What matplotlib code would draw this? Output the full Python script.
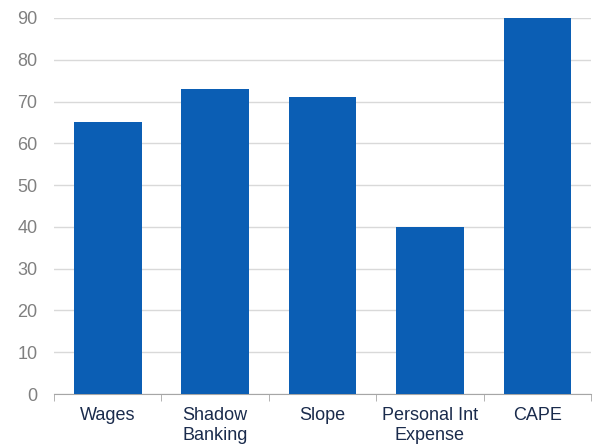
import numpy as np
import matplotlib
matplotlib.use("Agg")
import matplotlib.pyplot as plt

categories = ["Wages", "Shadow\nBanking", "Slope", "Personal Int\nExpense", "CAPE"]
values = [65, 73, 71, 40, 90]

plt.rcParams['font.family'] = ['Liberation Sans', 'DejaVu Sans']

fig = plt.figure(figsize=(5.94, 4.45), dpi=100)
ax = fig.add_axes([0.091, 0.1146, 0.904, 0.845])

x = np.arange(len(categories))
ax.bar(x, values, width=0.63, color="#0b5eb4", zorder=3)

ax.set_xlim(-0.5, len(categories) - 0.5)
ax.set_ylim(0, 90)
ax.set_yticks(range(0, 91, 10))
ax.grid(axis="y", color="#d9d9d9", linewidth=1, zorder=0)

ax.set_xticks(x)
ax.set_xticklabels(categories, color="#1a2b4c", fontsize=13, linespacing=1.3)
ax.set_xticks(np.arange(-0.5, len(categories)), minor=True)
ax.tick_params(axis="x", which="major", length=0, pad=9)
ax.tick_params(axis="x", which="minor", length=5, color="#a6a6a6")
ax.tick_params(axis="y", length=0, labelcolor="#808080", labelsize=13, pad=12)

for side in ["left", "right", "top"]:
    ax.spines[side].set_visible(False)
ax.spines["bottom"].set_color("#a6a6a6")

fig.savefig("out.png", dpi=100)
